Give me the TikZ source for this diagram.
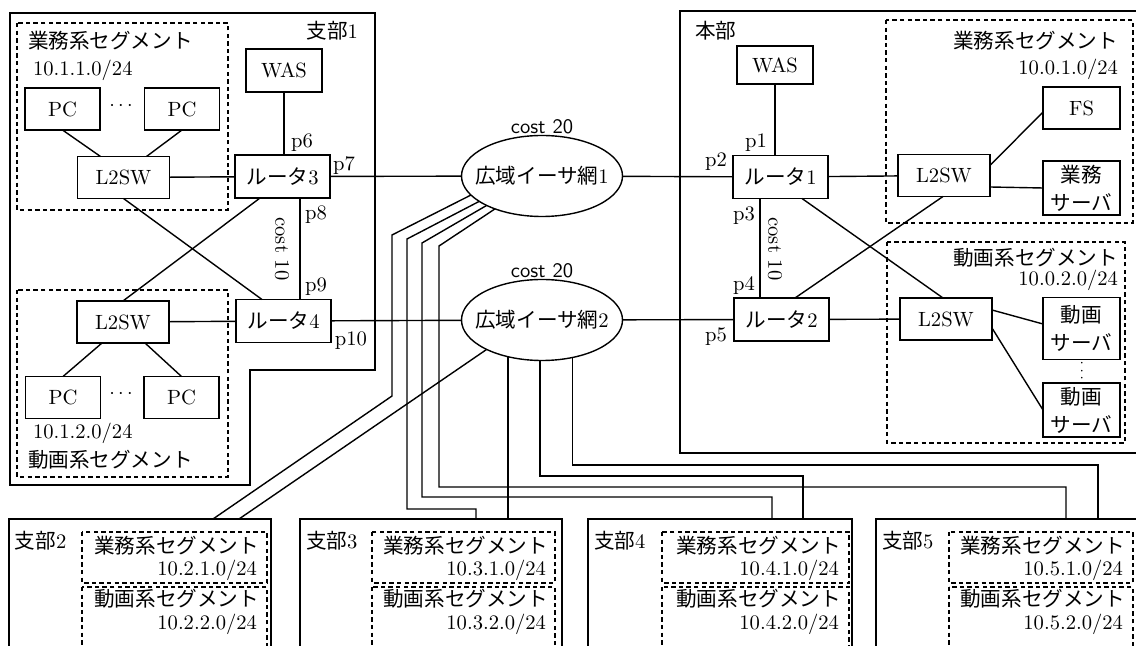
\documentclass[tikz,border=0pt]{standalone}
\usepackage{fontspec}
\newfontfamily\jp{Noto Sans CJK JP}
\usetikzlibrary{shapes.geometric,positioning,calc}

\begin{document}
\begin{tikzpicture}[x=0.5pt,y=-0.5pt,line width=0.7pt,
  every node/.style={font=\fontsize{10.3}{12.4}\selectfont, inner sep=0pt, outer sep=0pt},
  pc/.style={draw, minimum width=37.5pt, minimum height=21pt},
  sw/.style={draw, minimum width=46pt, minimum height=21pt},
  rt/.style={draw, minimum width=47.5pt, minimum height=21.5pt},
  srv/.style={draw, minimum width=38.5pt, minimum height=27pt, align=center, font=\fontsize{10.3}{14}\selectfont},
  cloud/.style={draw, ellipse, minimum width=80.5pt, minimum height=40.5pt},
  site/.style={draw, anchor=north west, minimum height=72pt},
  seg/.style={draw, dash pattern=on 2.2pt off 1.6pt}]
\useasboundingbox (0,0) rectangle (1136,646);
\fill[white] (0,0) rectangle (1136,646);
\clip (0,0) rectangle (1136,646);

% 支部1
\draw (10,13) -- (375,13) -- (375,370) -- (250,370) -- (250,485) -- (10,485) -- cycle;
\node[anchor=east] (l1) at (358,31) {{\jp 支部}1};
\draw[seg] (17,23) rectangle (228,210);
\node[anchor=west] (g1a) at (28,41) {\jp 業務系セグメント};
\node[anchor=west] (n1a) at (33,70) {10.1.1.0/24};
\draw[seg] (17,290) rectangle (228,477);
\node[anchor=west] (n1b) at (33,433) {10.1.2.0/24};
\node[anchor=west] (g1b) at (28,460) {\jp 動画系セグメント};
\node[pc] (pca) at (62.5,109) {PC};
\node[pc] (pcb) at (182,109) {PC};
\node (dta) at (121,106) {$\cdots$};
\node[sw] (swa) at (123.5,177.5) {L2SW};
\node[draw, minimum width=38pt, minimum height=21.5pt] (wasa) at (284,70.5) {WAS};
\node[rt] (r3) at (282.5,176.5) {{\jp ルータ}3};
\node[sw] (swb) at (123,322) {L2SW};
\node[rt] (r4) at (283.5,321) {{\jp ルータ}4};
\node[pc] (pcc) at (63,397.5) {PC};
\node[pc] (pcd) at (181.5,397.5) {PC};
\node (dtb) at (121,394) {$\cdots$};
\node (p6) at (302,143) {p6};
\node (p7) at (344,166) {p7};
\node (p8) at (316,215) {p8};
\node (p9) at (316,287) {p9};
\node (p10) at (351,341) {p10};
\node[rotate=-90] (k1) at (282,249) {cost 10};

% 広域イーサ網
\node[cloud] (w1) at (542,176) {\makebox[0pt]{{\jp 広域イーサ網}1}};
\node[cloud] (w2) at (542,320) {\makebox[0pt]{{\jp 広域イーサ網}2}};
\node[font=\sffamily\fontsize{10.3}{12.4}\selectfont, above=1pt of w1] (c1) {cost 20};
\node[font=\sffamily\fontsize{10.3}{12.4}\selectfont, above=1pt of w2] (c2) {cost 20};

% 本部
\draw (1140,11) -- (680,11) -- (680,453) -- (1140,453);
\node[anchor=west] (l0) at (695,31) {{\jp 本部}};
\draw[seg] (886,20) rectangle (1133,223);
\node[anchor=east] (g0a) at (1118,41) {\jp 業務系セグメント};
\node[anchor=east] (n0a) at (1118,69) {10.0.1.0/24};
\draw[seg] (887,242) rectangle (1125,443);
\node[anchor=east] (g0b) at (1118,258) {\jp 動画系セグメント};
\node[anchor=east] (n0b) at (1118,280) {10.0.2.0/24};
\node[draw, minimum width=38pt, minimum height=19pt] (wasb) at (775,65) {WAS};
\node[rt] (r1) at (780.5,177) {{\jp ルータ}1};
\node[rt] (r2) at (781.5,319.5) {{\jp ルータ}2};
\node[sw] (swc) at (944,175.5) {L2SW};
\node[sw] (swd) at (946,319) {L2SW};
\node[draw, minimum width=38.5pt, minimum height=21pt] (fs) at (1081.5,108) {FS};
\node[srv] (srva) at (1081.5,188) {{\jp 業務}\\{\jp サーバ}};
\node[srv, minimum height=31pt] (srvb) at (1081.5,328.5) {{\jp 動画}\\{\jp サーバ}};
\node[rotate=90, font=\fontsize{7.5}{8}\selectfont] (dtc) at (1082,371) {$\cdots$};
\node[srv] (srvc) at (1081.5,410) {{\jp 動画}\\{\jp サーバ}};
\node (p1) at (756,143) {p1};
\node (p2) at (716,162) {p2};
\node (p3) at (744,216) {p3};
\node (p4) at (744,286) {p4};
\node (p5) at (716,337) {p5};
\node[rotate=-90] (k0) at (775,249) {cost 10};

% 支部2-5
\node[site, minimum width=131pt] (b2) at (9,519) {};
\node[anchor=west] (l2) at (15,541) {{\jp 支部}2};
\draw[seg] (82,532) rectangle (267,583);
\draw[seg] (82,587) rectangle (267,650);
\node[anchor=east] (g2a) at (259,546) {\jp 業務系セグメント};
\node[anchor=east] (n2a) at (257,570) {10.2.1.0/24};
\node[anchor=east] (g2b) at (259,599) {\jp 動画系セグメント};
\node[anchor=east] (n2b) at (257,624) {10.2.2.0/24};

\node[site, minimum width=131pt] (b3) at (300,519) {};
\node[anchor=west] (l3) at (306,541) {{\jp 支部}3};
\draw[seg] (372,532) rectangle (555,583);
\draw[seg] (372,587) rectangle (555,650);
\node[anchor=east] (g3a) at (548,546) {\jp 業務系セグメント};
\node[anchor=east] (n3a) at (546,570) {10.3.1.0/24};
\node[anchor=east] (g3b) at (548,599) {\jp 動画系セグメント};
\node[anchor=east] (n3b) at (546,624) {10.3.2.0/24};

\node[site, minimum width=132pt] (b4) at (588,519) {};
\node[anchor=west] (l4) at (594,541) {{\jp 支部}4};
\draw[seg] (662,532) rectangle (849,583);
\draw[seg] (662,587) rectangle (849,650);
\node[anchor=east] (g4a) at (841,546) {\jp 業務系セグメント};
\node[anchor=east] (n4a) at (839,570) {10.4.1.0/24};
\node[anchor=east] (g4b) at (841,599) {\jp 動画系セグメント};
\node[anchor=east] (n4b) at (839,624) {10.4.2.0/24};

\node[site, minimum width=134pt] (b5) at (876,519) {};
\node[anchor=west] (l5) at (882,541) {{\jp 支部}5};
\draw[seg] (949,532) rectangle (1133,583);
\draw[seg] (949,587) rectangle (1133,650);
\node[anchor=east] (g5a) at (1125,546) {\jp 業務系セグメント};
\node[anchor=east] (n5a) at (1123,570) {10.5.1.0/24};
\node[anchor=east] (g5b) at (1125,599) {\jp 動画系セグメント};
\node[anchor=east] (n5b) at (1123,624) {10.5.2.0/24};

% links in 支部1
\draw (pca.south) -- ($(swa.north)+(-23,0)$);
\draw (pcb.south) -- ($(swa.north)+(23,0)$);
\draw (swa) -- (r3);
\draw (wasa.south) -- (wasa.south |- r3.north);
\draw (r3) -- (w1);
\draw ($(r3.south)+(17.5,0)$) -- ($(r4.north)+(16.5,0)$);
\draw (swa.south) -- ($(r4.north)+(-21.5,0)$);
\draw ($(r3.south)+(-22.5,0)$) -- (swb.north);
\draw (swb) -- (r4);
\draw ($(swb.south)+(-21,0)$) -- (pcc.north);
\draw ($(swb.south)+(22,0)$) -- (pcd.north);
\draw (r4) -- (w2);

% links in 本部
\draw (wasb.south) -- (wasb.south |- r1.north);
\draw (w1) -- (r1);
\draw (w2) -- (r2);
\draw ($(r1.south)+(-20.5,0)$) -- ($(r2.north)+(-21.5,0)$);
\draw (r1) -- (swc);
\draw (r2) -- (swd);
\draw ($(swc.east)+(0,-10)$) -- ($(fs.west)+(0,4)$);
\draw ($(swc.east)+(0,11.5)$) -- (srva.west);
\draw ($(r1.south)+(21.5,0)$) -- ($(swd.north)+(-3,0)$);
\draw ($(swc.south)+(-1,0)$) -- ($(r2.north)+(13.5,0)$);
\draw ($(swd.east)+(0,-9)$) -- ($(srvb.west)+(0,-4.5)$);
\draw ($(swd.east)+(0,9)$) -- (srvc.west);

% lines to 支部2-5
\draw (w1.195) -- (392,235) -- (392,396) -- ($(b2.north west)+(204,0)$);
\draw (w2.208) -- ($(b2.north west)+(230,0)$);
\draw (w1.202) -- (407,239) |- (476,509) -- (476,509 |- b3.north);
\draw (w2.227) -- (w2.227 |- b3.north);
\draw (w1.208) -- (422,243) |- (772,497) -- (772,497 |- b4.north);
\draw (w2.267) |- (803,476) -- (803,476 |- b4.north);
\draw (w1.215) -- (439,246) |- (1066,487) -- (1066,487 |- b5.north);
\draw (w2.309) |- (1098,465) -- (1098,465 |- b5.north);
\end{tikzpicture}
\end{document}
